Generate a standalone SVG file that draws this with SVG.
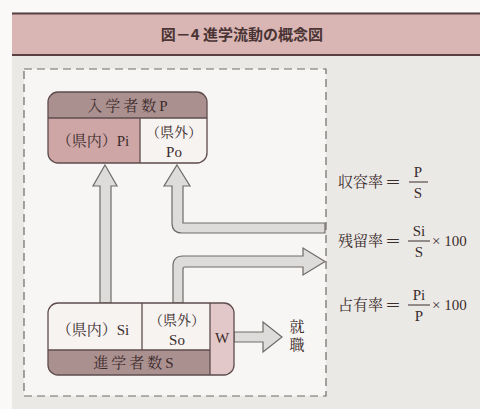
<svg xmlns="http://www.w3.org/2000/svg" width="480" height="409" viewBox="0 0 480 409">
<defs>
<style>
.jp{font-family:"Liberation Serif","Noto Serif CJK JP","Noto Sans CJK JP",serif;fill:#3b2c2c;}
.t{font-size:14px;}
.m{font-size:15px;}
.h{font-size:15px;letter-spacing:3px;}
.eq{font-family:"Noto Sans CJK JP",sans-serif;font-size:16px;fill:#3b2c2c;}
.arrow{fill:#dedcda;stroke:#6e6a68;stroke-width:1.2;stroke-linejoin:miter;}
.box{stroke:#5e4c4c;stroke-width:1.3;}
.bar{stroke:#3b2c2c;stroke-width:1;}
</style>
</defs>
<rect x="0" y="0" width="480" height="409" fill="#fbf9f7"/>
<rect x="12" y="12" width="468" height="397" fill="#ebe9e6"/>
<g id="title">
<rect x="12" y="13" width="468" height="42" fill="#d9b6b4"/>
<line x1="12" y1="13.5" x2="480" y2="13.5" stroke="#5a4040" stroke-width="2"/>
<line x1="12" y1="55" x2="480" y2="55" stroke="#5a4040" stroke-width="2"/>
<text x="242" y="40" text-anchor="middle" font-family="Noto Sans CJK JP, sans-serif" font-weight="bold" font-size="15" fill="#4a3434">図－4  進学流動の概念図</text>
</g>
<rect id="frame" x="24" y="69" width="302" height="327" fill="#f8f6f4" stroke="#6e6a68" stroke-width="1.2" stroke-dasharray="8,5"/>
<g id="connectors">
<path class="arrow" d="M105,165 L117,186 L111,186 L111,303 L100,303 L100,186 L93,186 Z"/>
<path class="arrow" d="M177,165 L190,186 L183,186 L183,223 L325,223 L325,233 L182,233 Q172,233 172,223 L172,186 L164,186 Z"/>
<path class="arrow" d="M173,303 L173,266 Q173,256 183,256 L303,256 L303,248 L325,261.5 L303,275 L303,267 L185,267 Q183,267 183,269 L183,303 Z"/>
<path class="arrow" d="M234,332 L263,332 L263,322 L282,337 L263,352 L263,342 L234,342 Z"/>
</g>
<g id="node-P">
<rect x="48" y="92" width="159" height="71" rx="10" fill="#f6f3f1"/>
<path d="M58,92 H197 A10,10 0 0 1 207,102 V118 H48 V102 A10,10 0 0 1 58,92 Z" fill="#ab9090"/>
<path d="M48,118 H140 V163 H58 A10,10 0 0 1 48,153 Z" fill="#cfa6a6"/>
<rect class="box" x="48" y="92" width="159" height="71" rx="10" fill="none"/>
<line class="box" x1="48" y1="118" x2="207" y2="118"/>
<line class="box" x1="140" y1="118" x2="140" y2="163"/>
<text class="jp h" x="129" y="111" text-anchor="middle">入学者数P</text>
<text class="jp m" x="93" y="146" text-anchor="middle">（県内）Pi</text>
<text class="jp t" x="174" y="137" text-anchor="middle">（県外）</text>
<text class="jp m" x="174" y="157" text-anchor="middle">Po</text>
</g>
<g id="node-S">
<rect x="48" y="303" width="186" height="72" rx="10" fill="#f6f3f1"/>
<path d="M48,350 H210 V375 H58 A10,10 0 0 1 48,365 Z" fill="#ab9090"/>
<path d="M210,303 H224 A10,10 0 0 1 234,313 V365 A10,10 0 0 1 224,375 H210 Z" fill="#e2c8c8"/>
<rect class="box" x="48" y="303" width="186" height="72" rx="10" fill="none"/>
<line class="box" x1="48" y1="350" x2="210" y2="350"/>
<line class="box" x1="142" y1="303" x2="142" y2="350"/>
<line class="box" x1="210" y1="303" x2="210" y2="375"/>
<text class="jp m" x="93" y="335" text-anchor="middle">（県内）Si</text>
<text class="jp t" x="177" y="325" text-anchor="middle">（県外）</text>
<text class="jp m" x="177" y="345" text-anchor="middle">So</text>
<text class="jp m" x="222" y="343" text-anchor="middle">W</text>
<text class="jp h" x="135" y="368" text-anchor="middle">進学者数S</text>
</g>
<g id="node-job">
<text class="jp m" x="297" y="332" text-anchor="middle">就</text>
<text class="jp m" x="297" y="350" text-anchor="middle">職</text>
</g>
<g id="formulas">
<text class="jp m" x="338" y="187">収容率</text>
<text class="eq" x="393" y="188" text-anchor="middle">＝</text>
<text class="jp m" x="418" y="177" text-anchor="middle">P</text>
<line class="bar" x1="409" y1="182" x2="428" y2="182"/>
<text class="jp m" x="418" y="198" text-anchor="middle">S</text>
<text class="jp m" x="338" y="246">残留率</text>
<text class="eq" x="393" y="247" text-anchor="middle">＝</text>
<text class="jp m" x="419" y="236" text-anchor="middle">Si</text>
<line class="bar" x1="408" y1="241" x2="430" y2="241"/>
<text class="jp m" x="419" y="257" text-anchor="middle">S</text>
<text class="jp m" x="432" y="246">× 100</text>
<text class="jp m" x="338" y="310">占有率</text>
<text class="eq" x="393" y="311" text-anchor="middle">＝</text>
<text class="jp m" x="419" y="300" text-anchor="middle">Pi</text>
<line class="bar" x1="408" y1="305" x2="430" y2="305"/>
<text class="jp m" x="419" y="321" text-anchor="middle">P</text>
<text class="jp m" x="432" y="310">× 100</text>
</g>
</svg>
